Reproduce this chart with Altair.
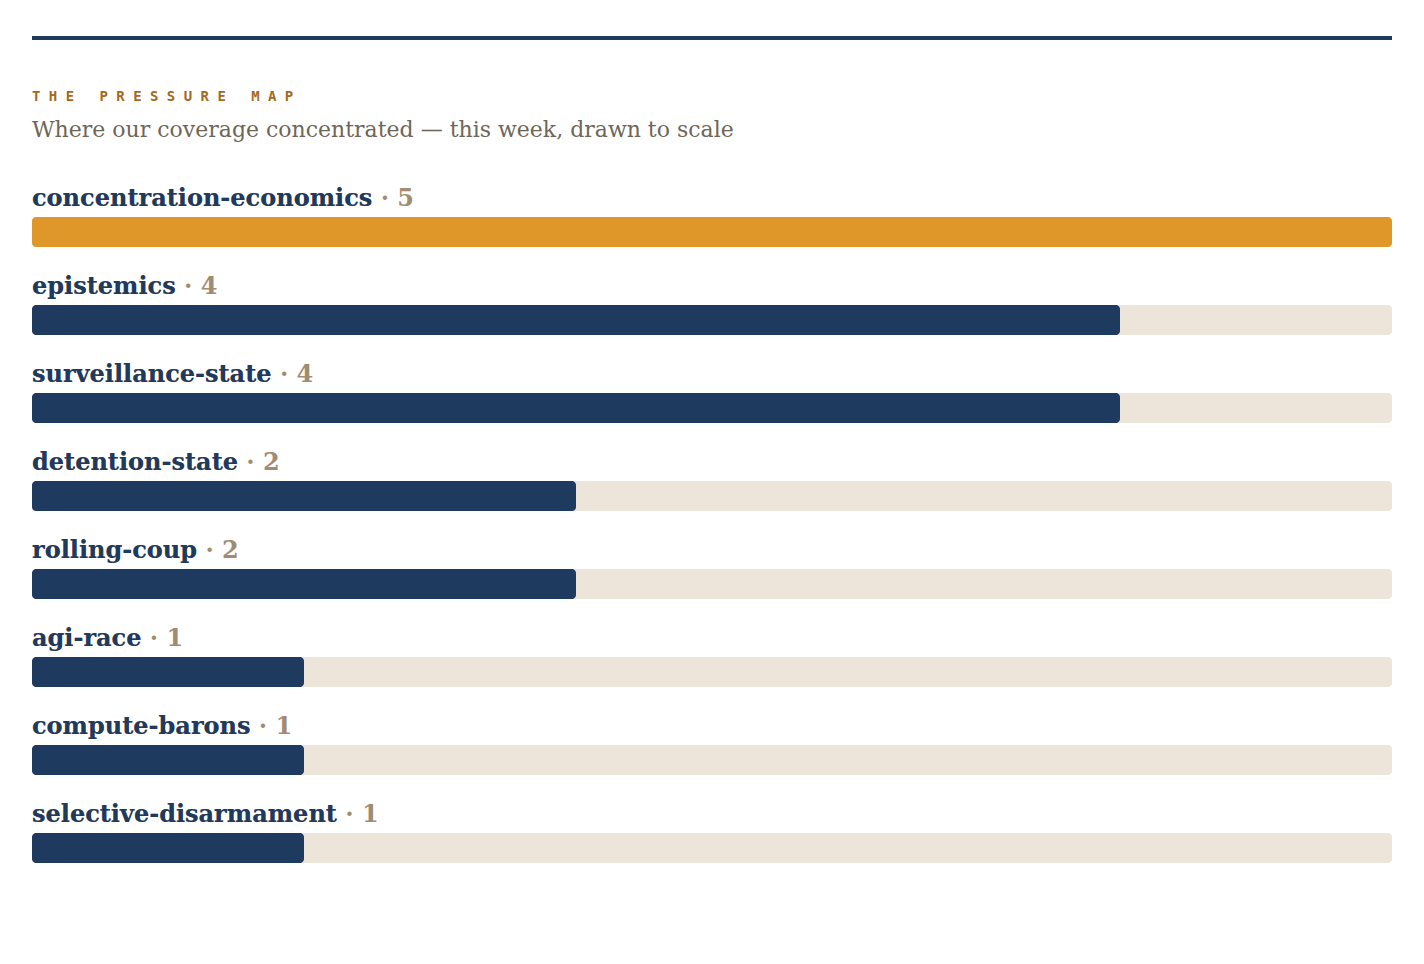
import altair as alt
import pandas as pd

topics = ["concentration-economics", "epistemics", "surveillance-state", "detention-state",
          "rolling-coup", "agi-race", "compute-barons", "selective-disarmament"]
counts = [5, 4, 4, 2, 2, 1, 1, 1]
kicker = "THE PRESSURE MAP"
subtitle = "Where our coverage concentrated — this week, drawn to scale"

NAVY = "#1f3a5f"
ORANGE = "#e0972a"
TRACK = "#ede5da"
KICK = "#a5691d"
SUB = "#6f6657"
COUNT = "#a08c72"

NBSP = "\u00a0"
df = pd.DataFrame({"topic": topics, "count": counts})
head = pd.DataFrame({"kicker": [NBSP.join(kicker.replace(" ", NBSP))],
                     "subtitle": [subtitle]})

y = alt.Y("topic:N", sort=topics, axis=None,
          scale=alt.Scale(paddingInner=0, paddingOuter=0))
xs = alt.Scale(domain=[0, max(counts)], nice=False, zero=True)

base = alt.Chart(df).transform_joinaggregate(
    max_count="max(count)"
).transform_calculate(
    full="datum.topic + ' · ' + datum.count"
)

track = base.mark_bar(height=30, cornerRadius=4, color=TRACK).encode(
    x=alt.X("max_count:Q", scale=xs, axis=None), y=y)

bars = base.mark_bar(height=30, cornerRadius=4).encode(
    x=alt.X("count:Q", scale=xs, axis=None), y=y,
    color=alt.condition("datum.count == datum.max_count",
                        alt.value(ORANGE), alt.value(NAVY)))

count_text = base.mark_text(align="left", baseline="alphabetic", dy=-26,
                            font="DejaVu Serif", fontSize=24, fontWeight="bold",
                            color=COUNT).encode(
    x=alt.datum(0), y=y, text="full:N")

label_text = base.mark_text(align="left", baseline="alphabetic", dy=-26,
                            font="DejaVu Serif", fontSize=24, fontWeight="bold",
                            color=NAVY).encode(
    x=alt.datum(0), y=y, text="topic:N")

rule = alt.Chart(head).mark_rule(color=NAVY, strokeWidth=4).encode(
    x=alt.value(0), x2=alt.value(1360), y=alt.value(-150))

kicker_text = alt.Chart(head).mark_text(
    align="left", baseline="alphabetic", font="DejaVu Sans Mono", fontSize=14,
    fontWeight="bold", color=KICK).encode(
    x=alt.value(0), y=alt.value(-87), text="kicker:N")

sub_text = alt.Chart(head).mark_text(
    align="left", baseline="alphabetic", font="DejaVu Serif", fontSize=22,
    color=SUB).encode(
    x=alt.value(0), y=alt.value(-51), text="subtitle:N")

chart = alt.layer(rule, kicker_text, sub_text, track, bars, count_text, label_text).properties(
    width=1360, height=704,
    autosize=alt.AutoSizeParams(type="none"),
    padding={"left": 32, "right": 32, "top": 188, "bottom": 72},
    background="white",
).configure_view(stroke=None)

chart.save("out.html", embed_options={"renderer": "svg", "actions": False})
